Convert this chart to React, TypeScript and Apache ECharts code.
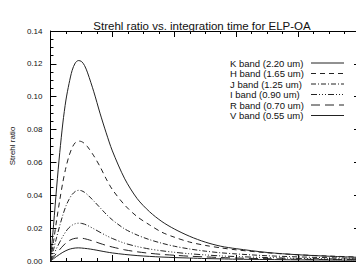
import React, { useEffect, useRef } from "react";
import * as echarts from "echarts";

const bandNames = [
  "K band (2.20 um)",
  "H band (1.65 um)",
  "J band (1.25 um)",
  "I band (0.90 um)",
  "R band (0.70 um)",
  "V band (0.55 um)",
];

const times = [0, 0.05, 0.1, 0.15, 0.2, 0.25, 0.3, 0.35, 0.4, 0.45, 0.5, 0.55, 0.6, 0.7, 0.8, 0.9, 1.0, 1.2, 1.4, 1.6, 1.8, 2.0, 2.25, 2.5, 2.75, 3.0, 3.5, 4.0, 4.5, 5.0];

const kBand = [0, 0.022, 0.045, 0.066, 0.084, 0.098, 0.108, 0.116, 0.1205, 0.122, 0.1215, 0.119, 0.1145, 0.103, 0.09, 0.078, 0.067, 0.05, 0.038, 0.03, 0.024, 0.0195, 0.015, 0.0115, 0.009, 0.0075, 0.0052, 0.0038, 0.0029, 0.0022];
const hBand = [0, 0.012, 0.025, 0.037, 0.048, 0.057, 0.064, 0.069, 0.072, 0.073, 0.0727, 0.0715, 0.0695, 0.064, 0.0575, 0.05, 0.0435, 0.034, 0.027, 0.022, 0.0175, 0.0145, 0.0115, 0.0095, 0.008, 0.0068, 0.005, 0.0038, 0.003, 0.0024];
const jBand = [0, 0.007, 0.0145, 0.0215, 0.028, 0.0335, 0.0375, 0.0405, 0.0423, 0.043, 0.0428, 0.0418, 0.0403, 0.0365, 0.0325, 0.0285, 0.025, 0.0195, 0.0158, 0.013, 0.0108, 0.009, 0.0073, 0.006, 0.005, 0.0043, 0.0032, 0.0025, 0.002, 0.0016];
const iBand = [0, 0.0038, 0.0078, 0.0115, 0.015, 0.018, 0.0203, 0.0218, 0.0227, 0.023, 0.0229, 0.0224, 0.0216, 0.0196, 0.0175, 0.0155, 0.0137, 0.0108, 0.0088, 0.0073, 0.0062, 0.0053, 0.0044, 0.0037, 0.0031, 0.0027, 0.0021, 0.0016, 0.0013, 0.0011];
const rBand = [0, 0.0024, 0.0048, 0.007, 0.0091, 0.011, 0.0124, 0.0133, 0.0138, 0.014, 0.0139, 0.0136, 0.0131, 0.012, 0.0107, 0.0095, 0.0085, 0.0068, 0.0056, 0.0047, 0.004, 0.0035, 0.0029, 0.0025, 0.0021, 0.0018, 0.0014, 0.0011, 0.0009, 0.0008];
const vBand = [0, 0.0014, 0.0028, 0.0041, 0.0053, 0.0063, 0.0071, 0.0076, 0.0079, 0.008, 0.0079, 0.0077, 0.0075, 0.0069, 0.0062, 0.0055, 0.0049, 0.004, 0.0033, 0.0028, 0.0024, 0.0021, 0.0018, 0.0015, 0.0013, 0.0011, 0.0009, 0.0007, 0.0006, 0.0005];

const bandValues = [kBand, hBand, jBand, iBand, rBand, vBand];
const dashTypes: any[] = [
  "solid",
  [5, 4],
  [5, 2, 1, 2],
  [6, 2, 1, 2, 1, 2, 1, 2],
  [9, 5],
  "solid",
];

const FONT = "Liberation Sans, Arial, sans-serif";
const INK = "#222";

export default function App() {
  const ref = useRef<HTMLDivElement>(null);
  useEffect(() => {
    document.body.style.overflow = "hidden";
    const chart = echarts.init(ref.current!, undefined, { renderer: "svg" });
    const axisCommon = {
      type: "value" as const,
      axisLine: { show: true, onZero: false, lineStyle: { color: "#000", width: 1 } },
      splitLine: { show: false },
    };
    const ticks = {
      axisTick: { show: true, inside: true, length: 6, lineStyle: { color: "#000" } },
      minorTick: { show: true, splitNumber: 4, length: 3, lineStyle: { color: "#000" } },
    };
    chart.setOption({
      animation: false,
      backgroundColor: "#fff",
      title: {
        text: "Strehl ratio vs. integration time for ELP-OA",
        left: 197,
        textAlign: "center",
        top: 15,
        textStyle: { fontFamily: FONT, fontSize: 11.5, fontWeight: "normal", color: "#111" },
      },
      legend: {
        orient: "vertical",
        align: "right",
        left: 225,
        top: 53,
        itemWidth: 33,
        itemHeight: 10,
        itemGap: 0.5,
        data: bandNames,
        itemStyle: { opacity: 0 },
        lineStyle: { width: 1 },
        formatter: (name: string) => "{a|" + name + "}",
        textStyle: {
          fontFamily: FONT,
          fontSize: 9.5,
          color: "#111",
          rich: { a: { width: 76, align: "left", fontFamily: FONT, fontSize: 9.5, color: "#111" } },
        },
      },
      grid: { left: 34, top: 31, width: 326, height: 230 },
      xAxis: [
        { ...axisCommon, ...ticks, position: "bottom", min: 0, max: 5, interval: 1, axisLabel: { show: false } },
        { ...axisCommon, ...ticks, position: "top", min: 0, max: 5, interval: 1, axisLabel: { show: false } },
      ],
      yAxis: [
        {
          ...axisCommon,
          ...ticks,
          position: "left",
          min: 0,
          max: 0.14,
          interval: 0.02,
          name: "Strehl ratio",
          nameLocation: "middle",
          nameGap: 24,
          nameTextStyle: { fontFamily: FONT, fontSize: 8, color: "#111" },
          axisLabel: {
            fontFamily: FONT,
            fontSize: 8,
            color: "#111",
            margin: 8,
            formatter: (v: number) => v.toFixed(2),
          },
        },
        { ...axisCommon, ...ticks, position: "right", min: 0, max: 0.14, interval: 0.02, axisLabel: { show: false } },
      ],
      series: bandNames.map((name, i) => ({
        name,
        type: "line",
        xAxisIndex: 0,
        yAxisIndex: 0,
        symbol: "none",
        smooth: 0.3,
        color: INK,
        lineStyle: { color: INK, width: 1, type: dashTypes[i] },
        data: times.map((t, j) => [t, bandValues[i][j]]),
      })),
    });
    return () => chart.dispose();
  }, []);
  return (
    <div style={{ position: "fixed", left: 0, top: 0, width: 356, height: 266, overflow: "hidden", background: "#fff" }}>
      <div ref={ref} style={{ position: "absolute", left: 0, top: 0, width: 380, height: 300 }} />
    </div>
  );
}
